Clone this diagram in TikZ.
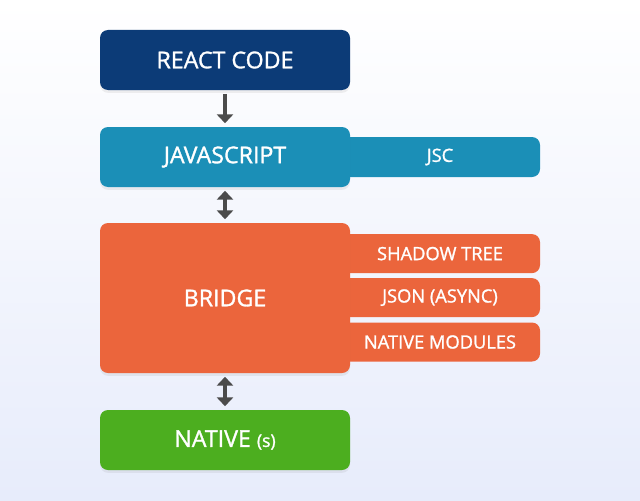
\documentclass[tikz,border=0pt]{standalone}
\usepackage{fontspec}
\setmainfont{Open Sans}[BoldFont=Open Sans, BoldFeatures={FakeBold=1.3}]
\usetikzlibrary{positioning, arrows.meta, shadows}

\definecolor{reactnavy}{HTML}{0C3B77}
\definecolor{jsblue}{HTML}{1B8FB7}
\definecolor{bridgeorange}{HTML}{EB653C}
\definecolor{nativegreen}{HTML}{4CAE1F}
\definecolor{arrowgray}{HTML}{4B4B4B}
\definecolor{bgbottom}{HTML}{E7ECFB}

\begin{document}
\begin{tikzpicture}[
    >={Triangle[width=0.4cm, length=0.22cm]},
    layer/.style={rounded corners=0.2cm, minimum width=6.25cm, minimum height=1.5cm,
        text=white, font=\fontsize{16.5pt}{19pt}\selectfont\bfseries,
        drop shadow={opacity=0.12, shadow xshift=0pt, shadow yshift=-2pt}},
    side/.style={rounded corners=0.2cm, minimum width=5cm, minimum height=0.975cm,
        text=white, font=\fontsize{13pt}{15pt}\selectfont\bfseries},
    flow/.style={arrowgray, line width=0.11cm, shorten >=2.5pt, shorten <=2.5pt}
]

    % ================= Background =================
    \shade[top color=white, bottom color=bgbottom] (0,0) rectangle (16,-12.5);
    \useasboundingbox (0,0) rectangle (16,-12.5);

    % ================= Side boxes (under the layers) =================
    \node[side, fill=jsblue, minimum height=1cm] (jsc) at (11, -3.925) {JSC};
    \node[side, fill=bridgeorange] (shadowtree) at (11, -6.34) {SHADOW TREE};
    \node[side, fill=bridgeorange] (json) at (11, -7.44) {JSON (ASYNC)};
    \node[side, fill=bridgeorange] (modules) at (11, -8.55) {NATIVE MODULES};

    % ================= Layers =================
    \node[layer, fill=reactnavy] (react) at (5.625, -1.5) {REACT CODE};
    \node[layer, fill=jsblue] (js) at (5.625, -3.925) {JAVASCRIPT};
    \node[layer, fill=bridgeorange, minimum height=3.75cm] (bridge) at (5.625, -7.45) {BRIDGE};
    \node[layer, fill=nativegreen] (native) at (5.625, -11) {NATIVE {\fontsize{12.5pt}{14pt}\selectfont(s)}};

    % ================= Arrows =================
    \draw[flow, ->] (react) -- (js);
    \draw[flow, <->] (js) -- (bridge);
    \draw[flow, <->] (bridge) -- (native);

\end{tikzpicture}
\end{document}
